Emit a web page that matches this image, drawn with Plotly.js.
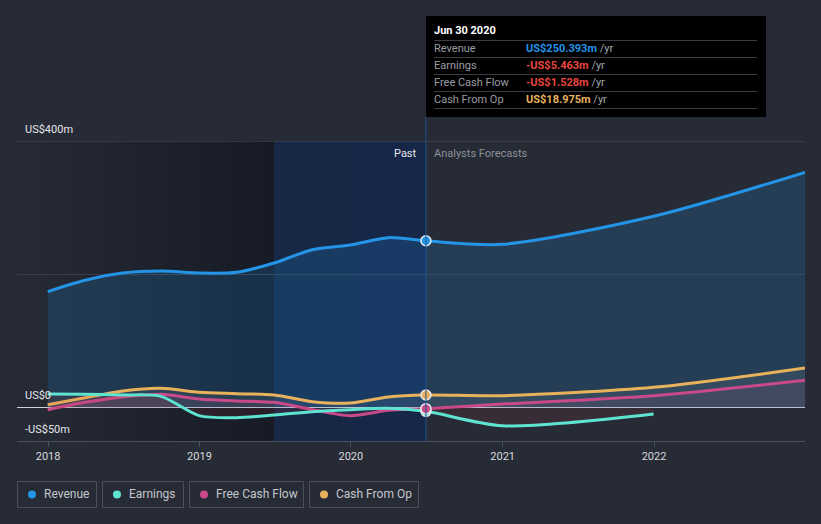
<!DOCTYPE html>
<html><head><meta charset="utf-8">
<script src="https://cdn.plot.ly/plotly-3.0.1.min.js"></script>
<style>html,body{margin:0;padding:0;background:#262b36;}#chart{width:821px;height:524px;}</style>
</head><body><div id="chart"></div>
<script>
// ---- data ----
const pastDates = ['2017-12-31','2018-03-31','2018-06-30','2018-09-30','2018-12-31','2019-03-31','2019-06-30','2019-09-30','2019-12-31','2020-03-31','2020-06-30'];
const revenuePast  = [174, 191, 202, 205, 202, 203, 217, 237, 244, 255, 250.393];
const earningsPast = [20.5, 20, 19, 17, -12, -15, -11, -6, -3, -1, -5.463];
const fcfPast      = [-3, 8, 16, 20, 13, 10, 8, -3, -12, -4, -1.528];
const cfoPast      = [4.5, 15, 25, 29, 23, 21, 19, 9, 7, 16, 18.975];
const forecastDates = ['2020-06-30','2020-12-31','2021-12-31','2022-12-31'];
const revenueFc  = [250.393, 245, 287, 353];
const earningsFc = [-5.463, -27, -9.5];
const fcfFc      = [-1.528, 5.5, 18, 41];
const cfoFc      = [18.975, 18, 30.5, 59.5];
const seriesNames = ['Revenue','Earnings','Free Cash Flow','Cash From Op'];
const tooltipDate = 'Jun 30 2020';
const tooltipValues = ['US$250.393m','-US$5.463m','-US$1.528m','US$18.975m'];
const xTickVals = ['2018-01-01','2019-01-01','2020-01-01','2021-01-01','2022-01-01'];
const xTickText = ['2018','2019','2020','2021','2022'];
const yLabelVals = [400, 0, -50];
const yLabelText = ['US$400m','US$0','-US$50m'];

// ---- styling ----
const COL = {rev:'#2394e6', earn:'#5ee3d1', fcf:'#c84a88', cfo:'#e8b25c'};
const FONT = 'Roboto, "Open Sans", sans-serif';
const nowDate = pastDates[pastDates.length-1];

function join(p, f){ return p.concat(f.slice(1)); }
const allDates = join(pastDates, forecastDates);

function line(x, y, color, fillcolor){
  return {x:x, y:y, type:'scatter', mode:'lines', hoverinfo:'skip',
    line:{color:color, width:3, shape:'spline', smoothing:0.8},
    fill:'tozeroy', fillcolor:fillcolor, showlegend:false};
}
const traces = [
  line(allDates, join(revenuePast, revenueFc), COL.rev, 'rgba(35,148,230,0.18)'),
  line(allDates, join(cfoPast, cfoFc), COL.cfo, 'rgba(190,190,190,0.10)'),
  line(allDates, join(fcfPast, fcfFc), COL.fcf, 'rgba(200,80,130,0.10)'),
  line(join(pastDates, forecastDates.slice(0, earningsFc.length)), join(earningsPast, earningsFc), COL.earn, 'rgba(220,60,60,0.10)')
];
const lastVals = [revenuePast, earningsPast, fcfPast, cfoPast].map(a => a[a.length-1]);
const cols = [COL.rev, COL.earn, COL.fcf, COL.cfo];
[0,3,1,2].forEach(i => traces.push({x:[nowDate], y:[lastVals[i]], type:'scatter', mode:'markers', hoverinfo:'skip', showlegend:false,
  marker:{size:10, color:cols[i], line:{color:'#e8eaee', width:1.5}}}));

// ---- layout helpers ----
const L=17, R=805, T=141, B=441, W=R-L, H=B-T;
const px = x => (x-L)/W, py = y => (B-y)/H;

const shapes = [];
// subtle darkening gradient for the left region
const nStrips = 16;
for (let i=0;i<nStrips;i++){
  shapes.push({type:'rect', xref:'paper', yref:'paper', x0: px(L + (i/nStrips)*(274-L)), x1: px(274), y0:0, y1:1,
    fillcolor:'rgba(8,10,16,0.011)', line:{width:0}, layer:'below'});
}
shapes.push({type:'rect', xref:'x', yref:'paper', x0:'2019-06-30', x1:nowDate, y0:0, y1:1,
  fillcolor:'#172846', line:{width:0}, layer:'below'});
shapes.push({type:'rect', xref:'x', yref:'paper', x0:'2020-01-15', x1:nowDate, y0:0, y1:1,
  fillcolor:'rgba(20,40,80,0.3)', line:{width:0}, layer:'below'});
// top gridline (400m)
shapes.push({type:'line', xref:'paper', yref:'y', x0:0, x1:1, y0:400, y1:400, line:{color:'#4b505c', width:1}});
// now line
shapes.push({type:'line', xref:'x', yref:'paper', x0:nowDate, x1:nowDate, y0:0, y1:py(117),
  line:{color:'#1f5596', width:1}});
// tooltip box
shapes.push({type:'rect', xref:'paper', yref:'paper', x0:px(426), x1:px(766), y0:py(117), y1:py(16),
  fillcolor:'#000000', line:{width:0}});
[40.5, 57.5, 74.5, 91.5, 108.5].forEach(y => shapes.push({type:'line', xref:'paper', yref:'paper',
  x0:px(434), x1:px(757), y0:py(y), y1:py(y), line:{color:'#3a3d44', width:1}}));

const ann = [];
yLabelVals.forEach((v,i) => ann.push({xref:'paper', yref:'y', x:px(23), y:v, yshift:12, xanchor:'left', yanchor:'middle',
  text:yLabelText[i], showarrow:false, font:{family:FONT, size:11, color:'#e4e6ea'}}));
ann.push({xref:'x', yref:'paper', x:nowDate, xshift:-7, y:py(153), xanchor:'right', yanchor:'middle', text:'Past',
  showarrow:false, font:{family:FONT, size:11, color:'#e6e8ec'}});
ann.push({xref:'x', yref:'paper', x:nowDate, xshift:6, y:py(153), xanchor:'left', yanchor:'middle', text:'Analysts Forecasts',
  showarrow:false, font:{family:FONT, size:11, color:'#8d9199'}});
// tooltip text
ann.push({xref:'paper', yref:'paper', x:px(432), y:py(31), xanchor:'left', yanchor:'middle', text:'<b>'+tooltipDate+'</b>',
  showarrow:false, font:{family:FONT, size:11, color:'#ffffff'}});
const valCols = [COL.rev, '#e8453f', '#e8453f', COL.cfo];
const rowY = [48.5, 65.5, 82.5, 99.5];
seriesNames.forEach((n,i) => {
  ann.push({xref:'paper', yref:'paper', x:px(432), y:py(rowY[i]), xanchor:'left', yanchor:'middle', text:n,
    showarrow:false, font:{family:FONT, size:11, color:'#9a9da3'}});
  ann.push({xref:'paper', yref:'paper', x:px(524), y:py(rowY[i]), xanchor:'left', yanchor:'middle',
    text:'<b><span style="color:'+valCols[i]+'">'+tooltipValues[i]+'</span></b> <span style="color:#a3a6ac">/yr</span>',
    showarrow:false, font:{family:FONT, size:11, color:'#a3a6ac'}});
});
// legend boxes (shapes) with dots and labels
const legX = [17, 102, 189, 309], legW = [80, 82, 115, 110];
seriesNames.forEach((n,i) => {
  shapes.push({type:'rect', xref:'paper', yref:'paper', x0:px(legX[i]+0.5), x1:px(legX[i]+legW[i]-0.5), y0:py(507.5), y1:py(481.5),
    line:{color:'#4a4f5a', width:1}, fillcolor:'rgba(0,0,0,0)'});
  shapes.push({type:'circle', xref:'paper', yref:'paper', x0:px(legX[i]+11), x1:px(legX[i]+19), y0:py(498.5), y1:py(490.5),
    line:{width:0}, fillcolor:cols[i]});
  ann.push({xref:'paper', yref:'paper', x:px(legX[i]+25), y:py(494.5), xanchor:'left', yanchor:'middle',
    text:n, showarrow:false, font:{family:FONT, size:12, color:'#c4c7cc'}});
});

const layout = {
  width:821, height:524, paper_bgcolor:'#262b36', plot_bgcolor:'#262b36',
  margin:{l:L, r:821-R, t:T, b:524-B, pad:0}, showlegend:false, hovermode:false,
  font:{family:FONT},
  xaxis:{type:'date', range:['2017-10-18','2022-12-31'], tickvals:xTickVals, ticktext:xTickText,
    showgrid:false, zeroline:false, showline:true, linecolor:'#4a505c', linewidth:1,
    ticks:'outside', ticklen:5, tickcolor:'#4a505c', tickfont:{family:FONT, size:11, color:'#d8dade'}},
  yaxis:{range:[-50,400], tickvals:[0,200,400], showticklabels:false, ticks:'',
    showgrid:true, gridcolor:'#383e4a', gridwidth:1, zeroline:true, zerolinecolor:'#cfd2d7', zerolinewidth:1.5, fixedrange:true},
  shapes:shapes, annotations:ann
};
Plotly.newPlot('chart', traces, layout, {displayModeBar:false, staticPlot:true});
</script></body></html>
